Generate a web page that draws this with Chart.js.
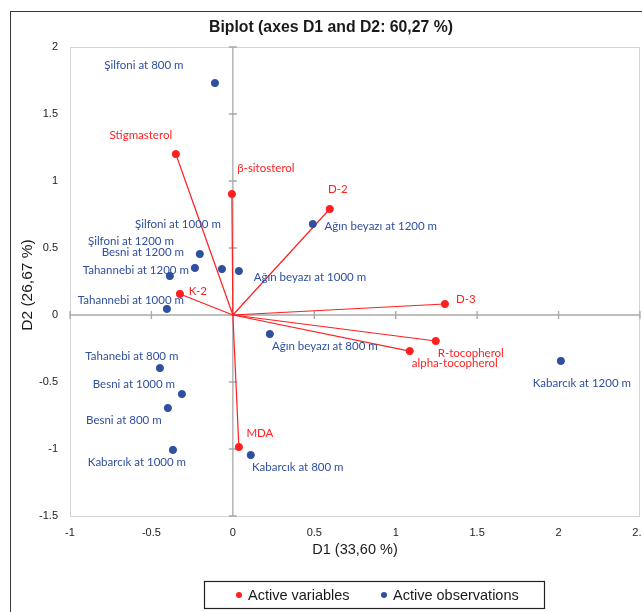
<!DOCTYPE html>
<html>
<head>
<meta charset="utf-8">
<script src="https://cdn.jsdelivr.net/npm/chart.js@4.4.1/dist/chart.umd.min.js"></script>
<style>
  html, body { margin: 0; padding: 0; background: #fff; width: 642px; height: 612px; overflow: hidden; }
  #frame { position: absolute; left: 10px; top: 11px; width: 760px; height: 760px; border: 1.5px solid #3a3a3a; }
  #biplot { position: absolute; left: 0; top: 0; }
</style>
</head>
<body>
<div id="frame"></div>
<canvas id="biplot" width="642" height="612"></canvas>
<script>
// variables (red) and observations (blue), coordinates on D1 / D2
const varNames = ['Stigmasterol', 'β-sitosterol', 'D-2', 'K-2', 'D-3', 'R-tocopherol', 'alpha-tocopherol', 'MDA'];
const varD1 = [-0.35, -0.006, 0.595, -0.325, 1.302, 1.246, 1.086, 0.037];
const varD2 = [1.201, 0.903, 0.791, 0.157, 0.082, -0.194, -0.269, -0.985];

const obsNames = [
  'Şilfoni at 800 m', 'Şilfoni at 1000 m', 'Şilfoni at 1200 m', 'Besni at 1200 m',
  'Tahannebi at 1200 m', 'Tahannebi at 1000 m', 'Ağın beyazı at 1200 m', 'Ağın beyazı at 1000 m',
  'Ağın beyazı at 800 m', 'Tahanebi at 800 m', 'Besni at 1000 m', 'Besni at 800 m',
  'Kabarcık at 1000 m', 'Kabarcık at 800 m', 'Kabarcık at 1200 m'
];
const obsD1 = [-0.11, -0.067, -0.233, -0.203, -0.387, -0.405, 0.491, 0.037, 0.227, -0.448, -0.313, -0.399, -0.368, 0.11, 2.014];
const obsD2 = [1.731, 0.343, 0.351, 0.455, 0.291, 0.045, 0.679, 0.328, -0.142, -0.396, -0.59, -0.694, -1.007, -1.045, -0.343];

const xTicks = [-1, -0.5, 0, 0.5, 1, 1.5, 2, 2.5];
const yTicks = [-1.5, -1, -0.5, 0, 0.5, 1, 1.5, 2];

// where each label sits, px from its point (text centre)
const varLabelOffsets = [[-35, -19], [34, -26], [8, -20], [18, -3], [21, -5], [35, 12], [45, 12], [21, -14]];
const obsLabelOffsets = [
  [-71, -18], [-44, -45], [-64, -27], [-57, -2], [-34, -6], [-36, -9], [68, 2], [71, 6],
  [55, 12], [-28, -12], [-48, -10], [-44, 12], [-36, 12], [47, 12], [21, 22]
];

const RED = '#ff1f1f';
const BLUE = '#2f4f9f';
const LABEL_FONT = '11.5px Lato';

const arrows = varNames.map((name, i) => ({
  type: 'scatter',
  data: [{ x: 0, y: 0 }, { x: varD1[i], y: varD2[i] }],
  showLine: true,
  borderColor: RED,
  borderWidth: 1.2,
  pointRadius: 0,
  order: 3
}));

const varPoints = {
  type: 'scatter',
  label: 'Active variables',
  data: varNames.map((n, i) => ({ x: varD1[i], y: varD2[i] })),
  backgroundColor: RED,
  borderColor: RED,
  pointRadius: 3.6,
  order: 1
};

const obsPoints = {
  type: 'scatter',
  label: 'Active observations',
  data: obsNames.map((n, i) => ({ x: obsD1[i], y: obsD2[i] })),
  backgroundColor: BLUE,
  borderColor: BLUE,
  pointRadius: 3.6,
  order: 2
};

const decorations = {
  id: 'decorations',
  beforeDatasetsDraw(chart) {
    const { ctx, chartArea: a, scales: { x, y } } = chart;
    const x0 = x.getPixelForValue(0);
    const y0 = y.getPixelForValue(0);
    ctx.save();
    ctx.strokeStyle = '#d4d4d4';
    ctx.lineWidth = 1;
    ctx.strokeRect(a.left + 0.5, a.top + 0.5, a.right - a.left - 1, a.bottom - a.top);

    ctx.strokeStyle = '#a8a8a8';
    ctx.lineWidth = 1.3;
    ctx.beginPath();
    ctx.moveTo(x0, a.top); ctx.lineTo(x0, a.bottom);
    ctx.moveTo(a.left, y0); ctx.lineTo(a.right, y0);
    xTicks.forEach((v) => {
      const px = x.getPixelForValue(v);
      ctx.moveTo(px, y0 - 4); ctx.lineTo(px, y0 + 4);
    });
    yTicks.forEach((v) => {
      const py = y.getPixelForValue(v);
      ctx.moveTo(x0 - 4, py); ctx.lineTo(x0 + 4, py);
    });
    ctx.stroke();
    ctx.restore();
  },
  afterDatasetsDraw(chart) {
    const { ctx, scales: { x, y } } = chart;
    ctx.save();
    ctx.font = LABEL_FONT;
    ctx.textAlign = 'center';
    ctx.textBaseline = 'middle';

    ctx.fillStyle = BLUE;
    obsNames.forEach((name, i) => {
      const [dx, dy] = obsLabelOffsets[i];
      ctx.fillText(name, x.getPixelForValue(obsD1[i]) + dx, y.getPixelForValue(obsD2[i]) + dy);
    });
    ctx.fillStyle = RED;
    varNames.forEach((name, i) => {
      const [dx, dy] = varLabelOffsets[i];
      ctx.fillText(name, x.getPixelForValue(varD1[i]) + dx, y.getPixelForValue(varD2[i]) + dy);
    });

    // title and axis titles
    ctx.fillStyle = '#1a1a1a';
    ctx.font = 'bold 15.8px "Liberation Sans"';
    ctx.fillText('Biplot (axes D1 and D2: 60,27 %)', 331, 28);
    ctx.font = '14.5px "Liberation Sans"';
    ctx.fillText('D1 (33,60 %)', 355, 550);
    ctx.save();
    ctx.translate(28, 285);
    ctx.rotate(-Math.PI / 2);
    ctx.font = '15.5px "Liberation Sans"';
    ctx.fillText('D2 (26,67 %)', 0, 0);
    ctx.restore();

    // legend box
    ctx.strokeStyle = '#222';
    ctx.lineWidth = 1.2;
    ctx.fillStyle = '#fff';
    ctx.fillRect(204, 581, 340, 27);
    ctx.strokeRect(204.5, 581.5, 340, 27);
    ctx.font = '14.5px "Liberation Sans"';
    ctx.textAlign = 'left';
    [[varPoints, 239], [obsPoints, 384]].forEach(([ds, cx]) => {
      ctx.fillStyle = ds.backgroundColor;
      ctx.beginPath();
      ctx.arc(cx, 595, 3, 0, Math.PI * 2);
      ctx.fill();
      ctx.fillStyle = '#1a1a1a';
      ctx.fillText(ds.label, cx + 9, 595.5);
    });
    ctx.restore();
  }
};

new Chart(document.getElementById('biplot'), {
  type: 'scatter',
  data: { datasets: [...arrows, varPoints, obsPoints] },
  options: {
    responsive: false,
    animation: false,
    events: [],
    layout: { padding: { left: 0, right: 2, top: 47, bottom: 0 }, autoPadding: false },
    plugins: { legend: { display: false }, tooltip: { enabled: false }, title: { display: false } },
    scales: {
      x: {
        type: 'linear', min: -1, max: 2.5,
        afterBuildTicks: (s) => { s.ticks = xTicks.map((v) => ({ value: v })); },
        afterFit: (s) => { s.height = 96; s.paddingLeft = 0; s.paddingRight = 0; },
        grid: { display: false, drawTicks: false },
        border: { display: false },
        ticks: {
          autoSkip: false, maxRotation: 0, padding: 10, color: '#222',
          font: { family: 'Liberation Sans', size: 11 },
          callback: (v) => String(v)
        }
      },
      y: {
        type: 'linear', min: -1.5, max: 2,
        afterBuildTicks: (s) => { s.ticks = yTicks.map((v) => ({ value: v })); },
        afterFit: (s) => { s.width = 70; s.paddingTop = 0; s.paddingBottom = 0; },
        grid: { display: false, drawTicks: false },
        border: { display: false },
        ticks: {
          autoSkip: false, padding: 12, color: '#222',
          font: { family: 'Liberation Sans', size: 11 },
          callback: (v) => String(v)
        }
      }
    }
  },
  plugins: [decorations]
});
</script>
</body>
</html>
